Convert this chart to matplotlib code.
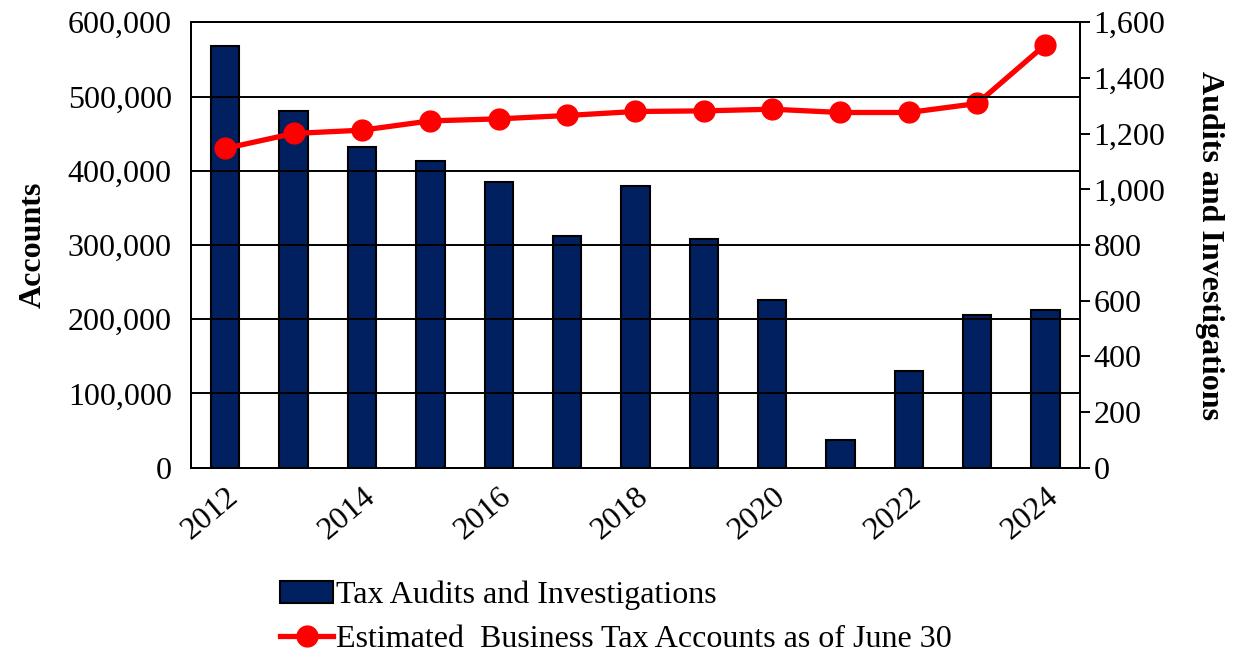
import numpy as np
import matplotlib
matplotlib.use('Agg')
import matplotlib.pyplot as plt
from matplotlib.ticker import FuncFormatter

plt.rcParams['font.family'] = ['Liberation Serif', 'DejaVu Serif']

years = [2012, 2013, 2014, 2015, 2016, 2017, 2018, 2019, 2020, 2021, 2022, 2023, 2024]
audits = [1514, 1283, 1152, 1101, 1025, 832, 1012, 822, 603, 98, 349, 548, 568]
accounts = [430090, 450270, 454710, 467220, 469910, 474480, 479860, 480670,
            482960, 478520, 478520, 490630, 570000]
year_labels = ['2012', '2014', '2016', '2018', '2020', '2022', '2024']

x = np.arange(len(years))
comma = FuncFormatter(lambda v, p: '{:,.0f}'.format(v))

fig, ax = plt.subplots(figsize=(12.41, 6.56), dpi=100)
fig.subplots_adjust(left=0.154, right=0.870, top=0.966, bottom=0.287)
ax2 = ax.twinx()

# bars on the right axis, line on the left axis drawn above them
ax.set_zorder(ax2.get_zorder() + 1)
ax.patch.set_visible(False)

bars = ax2.bar(x, audits, width=0.415, color='#002060', edgecolor='black',
               linewidth=1.5, label='Tax Audits and Investigations')
line, = ax.plot(x, accounts, '-o', color='#ff0000', lw=3.8, markersize=15,
                label='Estimated  Business Tax Accounts as of June 30')

ax.set_xlim(-0.5, len(years) - 0.5)
ax.set_ylim(0, 600000)
ax.set_yticks(np.arange(0, 600001, 100000))
ax.yaxis.set_major_formatter(comma)
ax.grid(axis='y', color='black', lw=1.4)
ax.set_axisbelow(False)
ax2.set_ylim(0, 1600)
ax2.set_yticks(np.arange(0, 1601, 200))
ax2.yaxis.set_major_formatter(comma)

ax.set_xticks(x[::2])
ax.set_xticklabels(year_labels, rotation=40, ha='right', rotation_mode='anchor')
ax.tick_params(axis='x', length=0, labelsize=23, pad=10)
ax.tick_params(axis='y', length=0, labelsize=23, pad=14)
ax2.tick_params(axis='y', length=7, width=1.4, direction='out', labelsize=23, pad=3)

for a in (ax, ax2):
    for s in a.spines.values():
        s.set_linewidth(1.4)

ax.set_ylabel('Accounts', fontsize=23, fontweight='bold', labelpad=14)
ax2.set_ylabel('Audits and Investigations', fontsize=23, fontweight='bold',
               rotation=270, labelpad=42)

fig.legend([bars, line], [bars.get_label(), line.get_label()],
           loc='upper left', bbox_to_anchor=(0.226, 0.115), frameon=False,
           fontsize=23, handlelength=1.65, handletextpad=0.1, labelspacing=0.45,
           borderpad=0, borderaxespad=0)

fig.savefig('out.png', dpi=100)
